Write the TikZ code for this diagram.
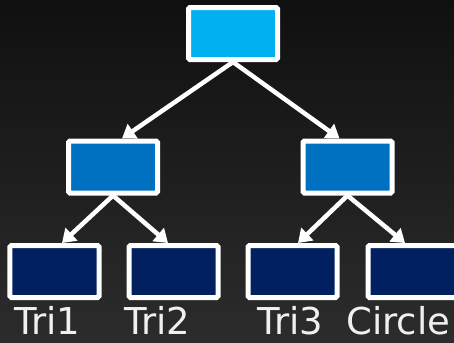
\documentclass[tikz,border=0pt]{standalone}
\usepackage{fontspec}
\setmainfont{DejaVu Sans}
\usetikzlibrary{arrows.meta}
\definecolor{rootblue}{HTML}{00B0F0}
\definecolor{midblue}{HTML}{0070C0}
\definecolor{leafblue}{HTML}{002060}
\definecolor{bgtop}{HTML}{101010}
\definecolor{bgbottom}{HTML}{2C2C2C}
\definecolor{labelwhite}{HTML}{F0F0F0}
\tikzset{
  treebox/.style={draw=white, line width=5bp, rounded corners=1.5bp,
    minimum width=89bp, minimum height=52bp, inner sep=0pt},
  link/.style={draw=white, line width=4.5bp,
    -{Triangle[width=17bp,length=13bp]}},
  leaflabel/.style={anchor=base west, inner sep=0pt, text=labelwhite,
    font=\fontsize{37bp}{40bp}\selectfont}
}
\begin{document}
\begin{tikzpicture}[x=1bp,y=-1bp]
  \useasboundingbox (0,0) rectangle (454,342);
  \shade[top color=bgtop, bottom color=bgbottom] (0,0) rectangle (454,342);
  \clip (0,0) rectangle (454,342);
  % tree boxes
  \node[treebox, fill=rootblue] (root) at (233,33.5) {};
  \node[treebox, fill=midblue] (left) at (113,167) {};
  \node[treebox, fill=midblue] (right) at (347.5,167) {};
  \node[treebox, fill=leafblue] (t1) at (54.5,271.5) {};
  \node[treebox, fill=leafblue] (t2) at (173.5,271.5) {};
  \node[treebox, fill=leafblue] (t3) at (292.5,271.5) {};
  \node[treebox, fill=leafblue] (c) at (412.5,271.5) {};
  % connectors
  \draw[link] (root.south) -- ([xshift=9bp]left.north);
  \draw[link] (root.south) -- ([xshift=-8bp]right.north);
  \draw[link] (left.south) -- ([xshift=7.5bp]t1.north);
  \draw[link] (left.south) -- ([xshift=-5.5bp]t2.north);
  \draw[link] (right.south) -- ([xshift=5.5bp]t3.north);
  \draw[link] (right.south) -- ([xshift=-7.5bp]c.north);
  % labels
  \node[leaflabel] (l1) at (14,334) {Tri1};
  \node[leaflabel] (l2) at (124,334) {Tri2};
  \node[leaflabel] (l3) at (257,334) {Tri3};
  \node[leaflabel] (l4) at (346,334) {Circle};
\end{tikzpicture}
\end{document}
